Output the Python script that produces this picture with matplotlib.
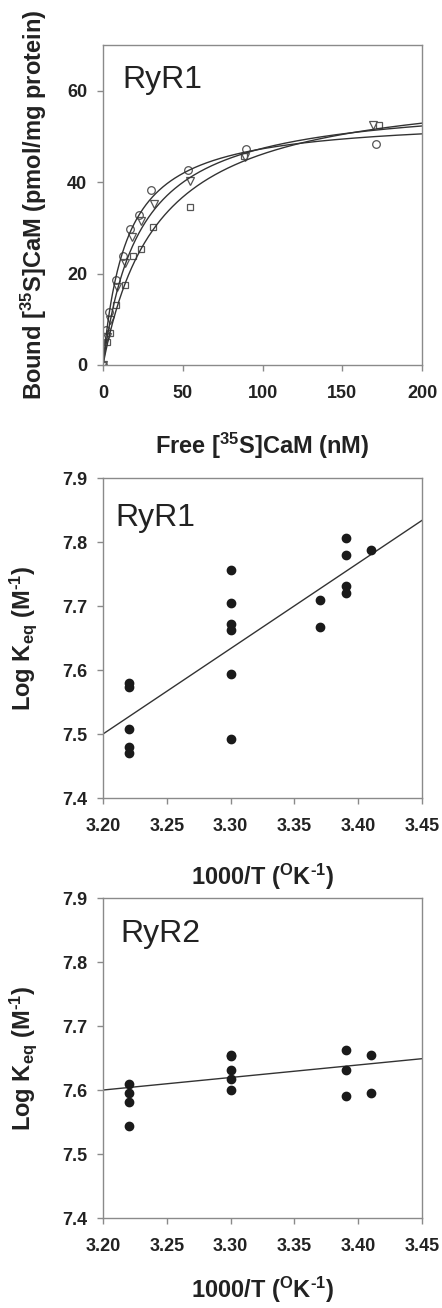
import numpy as np
import matplotlib
matplotlib.use("Agg")
import matplotlib.pyplot as plt

plt.rcParams['font.family'] = ['Liberation Sans', 'DejaVu Sans']
plt.rcParams['mathtext.fontset'] = 'custom'
plt.rcParams['mathtext.rm'] = 'Liberation Sans:bold'
plt.rcParams['mathtext.bf'] = 'Liberation Sans:bold'
plt.rcParams['mathtext.it'] = 'Liberation Sans:bold'

# --- top panel: saturation binding, three experiments
circ_x = [0, 1.9, 3.8, 8.1, 12.7, 16.9, 22.8, 29.9, 53, 89.4, 171]
circ_y = [0, 7.7, 11.5, 18.6, 23.9, 29.7, 32.8, 38.2, 42.7, 47.3, 48.3]
tri_x = [0, 2.3, 4.4, 9, 13.6, 18.4, 23.6, 32.2, 54.5, 89, 169]
tri_y = [0, 6.2, 9.9, 17, 22.3, 28, 31.4, 35.3, 40.3, 45.6, 52.6]
sq_x = [0, 2.5, 4.4, 8.4, 13.8, 18.6, 23.8, 31.1, 54.5, 88.1, 172.9]
sq_y = [0, 5.1, 6.9, 13.1, 17.4, 23.9, 25.3, 30.1, 34.5, 45.8, 52.5]
# fitted one-site curves (Bmax, Kd)
fits = [(54.3, 14.8), (58.3, 23.0), (62.0, 34.4)]

# --- middle panel: RyR1 van't Hoff
r1_x = [3.22]*5 + [3.30]*6 + [3.37]*2 + [3.39]*4 + [3.41]
r1_y = [7.579, 7.573, 7.508, 7.479, 7.470,
        7.757, 7.704, 7.672, 7.663, 7.594, 7.492,
        7.710, 7.667,
        7.806, 7.780, 7.731, 7.720,
        7.788]
r1_fit_x = [3.20, 3.45]
r1_fit_y = [7.500, 7.834]

# --- bottom panel: RyR2 van't Hoff
r2_x = [3.22]*4 + [3.30]*5 + [3.39]*3 + [3.41]*2
r2_y = [7.609, 7.596, 7.581, 7.544,
        7.655, 7.653, 7.631, 7.618, 7.600,
        7.662, 7.631, 7.591,
        7.655, 7.596]
r2_fit_x = [3.20, 3.45]
r2_fit_y = [7.600, 7.649]

txt = '#222222'
spine = '#8a8a8a'

fig = plt.figure(figsize=(4.42, 13.08), dpi=100)
ax1 = fig.add_axes([0.233, 0.721, 0.722, 0.2446])
ax2 = fig.add_axes([0.233, 0.3899, 0.722, 0.2446])
ax3 = fig.add_axes([0.233, 0.0688, 0.722, 0.2446])


def style(ax):
    for s in ax.spines.values():
        s.set_color(spine)
        s.set_linewidth(1.0)
    ax.tick_params(direction='out', length=4.5, width=1, color=spine,
                   labelsize=13, labelcolor=txt)
    ax.tick_params(axis='x', pad=10)
    ax.tick_params(axis='y', pad=7)
    for lab in ax.get_xticklabels() + ax.get_yticklabels():
        lab.set_fontweight('bold')


# top
ax1.plot(circ_x, circ_y, 'o', mfc='none', mec='#555555', ms=5.5, mew=0.9)
ax1.plot(tri_x, tri_y, 'v', mfc='none', mec='#555555', ms=5.5, mew=0.9)
ax1.plot(sq_x, sq_y, 's', mfc='none', mec='#555555', ms=5, mew=0.9)
xx = np.linspace(0, 200, 400)
for bmax, kd in fits:
    ax1.plot(xx, bmax * xx / (kd + xx), color='#333333', lw=1.0)
ax1.set_xlim(0, 200)
ax1.set_ylim(0, 70)
ax1.set_xticks([0, 50, 100, 150, 200])
ax1.set_yticks([0, 20, 40, 60])
style(ax1)
ax1.set_xlabel('Free [$^{35}$S]CaM (nM)', fontsize=17, fontweight='bold', color=txt)
ax1.set_ylabel('Bound [$^{35}$S]CaM (pmol/mg protein)', fontsize=17,
               fontweight='bold', color=txt)
ax1.xaxis.set_label_coords(0.5, -0.205)
ax1.yaxis.set_label_coords(-0.17, 0.5)
ax1.text(0.06, 0.866, 'RyR1', transform=ax1.transAxes, fontsize=23,
         color=txt, va='baseline')

# middle and bottom
for ax, x, y, fx, fy, name, ty, xly in [
        (ax2, r1_x, r1_y, r1_fit_x, r1_fit_y, 'RyR1', 0.85, -0.2),
        (ax3, r2_x, r2_y, r2_fit_x, r2_fit_y, 'RyR2', 0.8625, -0.178)]:
    ax.plot(fx, fy, color='#333333', lw=1.0)
    ax.plot(x, y, 'o', color='#1a1a1a', ms=6)
    ax.set_xlim(3.20, 3.45)
    ax.set_ylim(7.4, 7.9)
    ax.set_xticks([3.20, 3.25, 3.30, 3.35, 3.40, 3.45])
    ax.set_xticklabels(['3.20', '3.25', '3.30', '3.35', '3.40', '3.45'])
    ax.set_yticks([7.4, 7.5, 7.6, 7.7, 7.8, 7.9])
    ax.set_yticklabels(['7.4', '7.5', '7.6', '7.7', '7.8', '7.9'])
    style(ax)
    ax.set_xlabel('1000/T ($^{\\mathrm{O}}$K$^{\\text{-1}}$)', fontsize=17,
                  fontweight='bold', color=txt)
    ax.set_ylabel('Log K$_{\\mathrm{eq}}$ (M$^{\\text{-1}}$)', fontsize=17,
                  fontweight='bold', color=txt)
    ax.xaxis.set_label_coords(0.5, xly)
    ax.yaxis.set_label_coords(-0.2, 0.5)
    ax.text(0.04 if name == 'RyR1' else 0.053, ty, name, transform=ax.transAxes,
            fontsize=23, color=txt, va='baseline')

fig.savefig('out.png', dpi=100)
